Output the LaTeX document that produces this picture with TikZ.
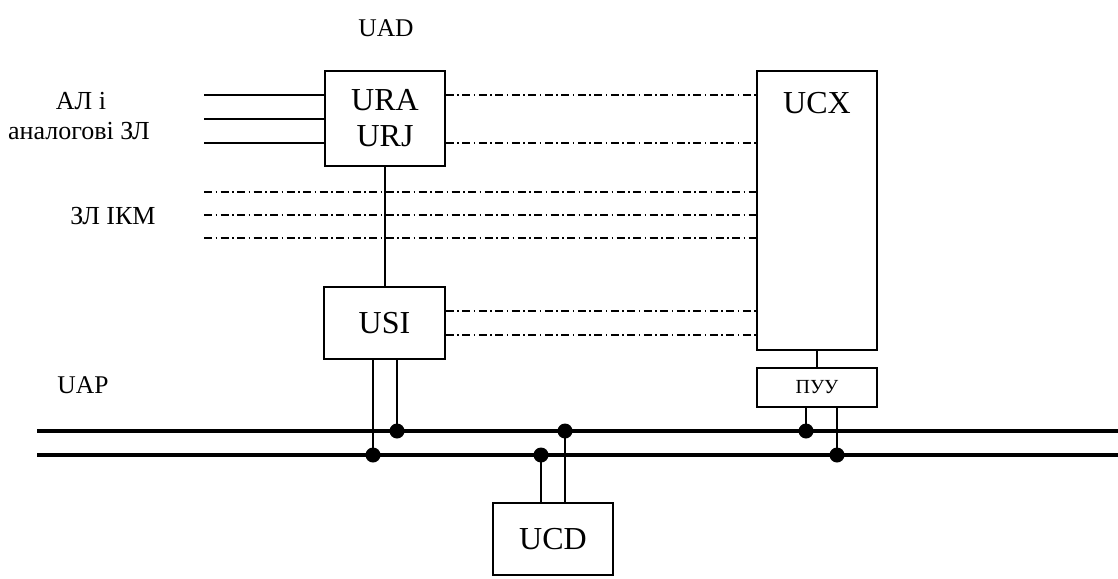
\documentclass[tikz,border=0pt]{standalone}
\usepackage{fontspec}
\setmainfont{Liberation Serif}
\begin{document}
\begin{tikzpicture}[x=1pt,y=-1pt,
  box/.style={draw, line width=1.6pt, rectangle, inner sep=0pt, align=center,
    font=\fontsize{32}{36}\selectfont},
  wire/.style={line width=1.5pt},
  dd/.style={line width=1.3pt, dash pattern=on 8pt off 3.5pt on 1.5pt off 3.5pt},
  bus/.style={line width=4pt},
  jdot/.style={circle, fill, inner sep=0pt, minimum size=15pt},
  lbl/.style={font=\fontsize{26}{30}\selectfont, inner sep=0pt},
  lbls/.style={font=\fontsize{25.5}{30}\selectfont, inner sep=0pt}]
\useasboundingbox (0,0) rectangle (1118,578);

% boxes
\node[box, minimum width=120pt, minimum height=95pt] (ura) at (385,118.5) {URA\\URJ};
\node[box, minimum width=120pt, minimum height=279pt] (ucx) at (817,210.5) {};
\node[box, inner sep=0pt, draw=none] (ucxl) at (817,103) {UCX};
\node[box, minimum width=121pt, minimum height=72pt] (usi) at (384.5,323) {USI};
\node[box, minimum width=120pt, minimum height=72pt] (ucd) at (553,539) {UCD};
\node[box, minimum width=120pt, minimum height=39pt, font=\fontsize{20}{24}\selectfont] (puu) at (817,387.5) {ПУУ};

% labels
\node[lbls] (uad) at (386,28) {UAD};
\node[lbl] (al) at (81,101) {АЛ і};
\node[lbl] (an) at (79,131) {аналогові ЗЛ};
\node[lbl] (ikm) at (113,216) {ЗЛ ІКМ};
\node[lbls] (uap) at (83,385) {UAP};

% analog inputs
\coordinate (i1) at (204,95);
\coordinate (i2) at (204,119);
\coordinate (i3) at (204,143);
\draw[wire] (i1) -- (i1 -| ura.west);
\draw[wire] (i2) -- (i2 -| ura.west);
\draw[wire] (i3) -- (i3 -| ura.west);

% URA -> UCX
\coordinate (r1) at (445,95);
\coordinate (r2) at (445,143);
\draw[dd] (r1 -| ura.east) -- (r1 -| ucx.west);
\draw[dd] (r2 -| ura.east) -- (r2 -| ucx.west);

% PCM trunks
\coordinate (p1) at (204,192);
\coordinate (p2) at (204,215);
\coordinate (p3) at (204,238);
\draw[dd] (p1) -- (p1 -| ucx.west);
\draw[dd] (p2) -- (p2 -| ucx.west);
\draw[dd] (p3) -- (p3 -| ucx.west);

% URA -> USI
\draw[wire] (ura.south) -- (usi.north -| ura.south);

% USI -> UCX
\coordinate (s1) at (445,311);
\coordinate (s2) at (445,335);
\draw[dd] (s1 -| usi.east) -- (s1 -| ucx.west);
\draw[dd] (s2 -| usi.east) -- (s2 -| ucx.west);

% UCX -> PUU
\draw[wire] (ucx.south) -- (puu.north);

% buses
\coordinate (b1w) at (37,431);
\coordinate (b1e) at (1118,431);
\coordinate (b2w) at (37,455);
\coordinate (b2e) at (1118,455);
\draw[bus] (b1w) -- (b1e);
\draw[bus] (b2w) -- (b2e);

% junctions
\node[jdot] (j1) at (373,455) {};
\node[jdot] (j2) at (397,431) {};
\node[jdot] (j3) at (541,455) {};
\node[jdot] (j4) at (565,431) {};
\node[jdot] (j5) at (806,431) {};
\node[jdot] (j6) at (837,455) {};

\draw[wire] (usi.south -| j1) -- (j1.center);
\draw[wire] (usi.south -| j2) -- (j2.center);
\draw[wire] (ucd.north -| j3) -- (j3.center);
\draw[wire] (ucd.north -| j4) -- (j4.center);
\draw[wire] (puu.south -| j5) -- (j5.center);
\draw[wire] (puu.south -| j6) -- (j6.center);
\end{tikzpicture}
\end{document}
